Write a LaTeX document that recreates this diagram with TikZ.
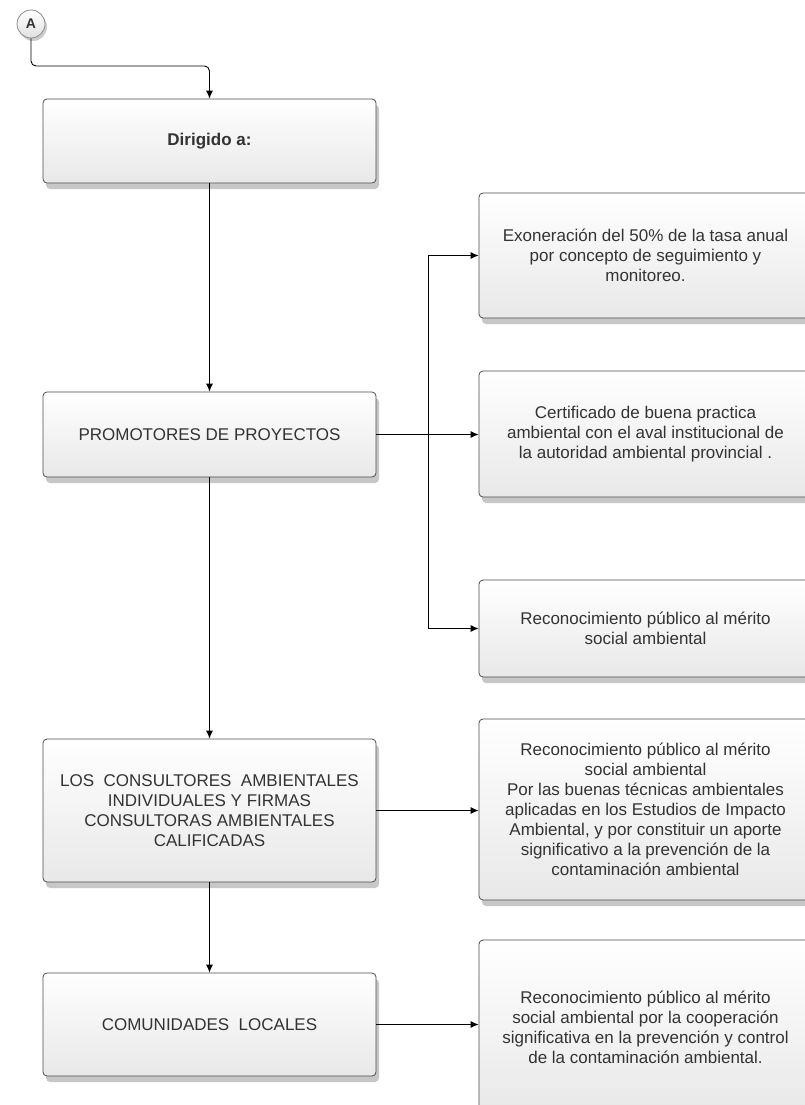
\documentclass[tikz,border=0pt]{standalone}
\usepackage{fontspec}
\setmainfont{Liberation Sans}
\usetikzlibrary{shapes,arrows.meta,shadows}

\begin{document}
\begin{tikzpicture}[
    x=1pt,y=-1pt,
	box/.style={draw=black!70, line width=0.8pt, rounded corners=4pt, top color=white, bottom color=black!9,
		minimum width=333pt, align=center, inner sep=0, text=black!80,
		font=\fontsize{17}{20}\selectfont,
		drop shadow={shadow xshift=3pt, shadow yshift=-6pt, opacity=0.22, fill=black}},
	conn/.style={line width=0.9pt, -{Latex[length=8pt,width=7pt]}}
]
\useasboundingbox (0,0) rectangle (805,1105);
\fill[white] (0,0) rectangle (805,1105);
\clip (0,0) rectangle (805,1105);

\node[circle, draw=black!45, line width=0.8pt, top color=white, bottom color=black!12, minimum size=28pt, inner sep=0,
	font=\bfseries\fontsize{14}{14}\selectfont, text=black!80,
	drop shadow={shadow xshift=2pt, shadow yshift=-3pt, opacity=0.2, fill=black}] (A) at (31,24) {A};

% left column
\node[box, minimum height=84pt, font=\bfseries\fontsize{17}{20}\selectfont] (dir) at (209.5,141) {Dirigido a:};
\node[box, minimum height=85pt] (prom) at (209.5,434.5) {PROMOTORES DE PROYECTOS};
\node[box, minimum height=143pt] (cons) at (209.5,810.5) {LOS\ \ CONSULTORES\ \ AMBIENTALES\\INDIVIDUALES Y FIRMAS\\CONSULTORAS AMBIENTALES\\CALIFICADAS};
\node[box, minimum height=103pt] (com) at (209.5,1024.5) {COMUNIDADES\ \ LOCALES};

% right column
\node[box, minimum height=125pt] (exon) at (645.5,255.5) {Exoneración del 50\% de la tasa anual\\por concepto de seguimiento y\\monitoreo.};
\node[box, minimum height=126pt] (cert) at (645.5,434) {Certificado de buena practica\\ambiental con el aval institucional de\\la autoridad ambiental provincial .};
\node[box, minimum height=97pt] (recon) at (645.5,628.5) {Reconocimiento público al mérito\\social ambiental};
\node[box, minimum height=181pt] (merito) at (645.5,809.5) {Reconocimiento público al mérito\\social ambiental\\Por las buenas técnicas ambientales\\aplicadas en los Estudios de Impacto\\Ambiental, y por constituir un aporte\\significativo a la prevención de la\\contaminación ambiental};
\node[box, minimum height=174pt] (coop) at (645.5,1027) {Reconocimiento público al mérito\\social ambiental por la cooperación\\significativa en la prevención y control\\de la contaminación ambiental.};

% connectors
\coordinate (bend) at (209.5,66);
\draw[conn, rounded corners=5pt] (A.south) |- (bend) -- (dir.north);
\draw[conn] (dir) -- (prom);
\draw[conn] (prom) -- (cons);
\draw[conn] (cons) -- (com);

\coordinate (fork) at (428,434);
\draw[conn] (prom.east) -- (prom.east -| cert.west);
\draw[line width=0.9pt] (fork |- exon.west) -- (fork |- recon.west);
\draw[conn] (fork |- exon.west) -- (exon.west);
\draw[conn] (fork |- recon.west) -- (recon.west);
\draw[conn] (cons.east) -- (cons.east -| merito.west);
\draw[conn] (com.east) -- (com.east -| coop.west);
\end{tikzpicture}
\end{document}
